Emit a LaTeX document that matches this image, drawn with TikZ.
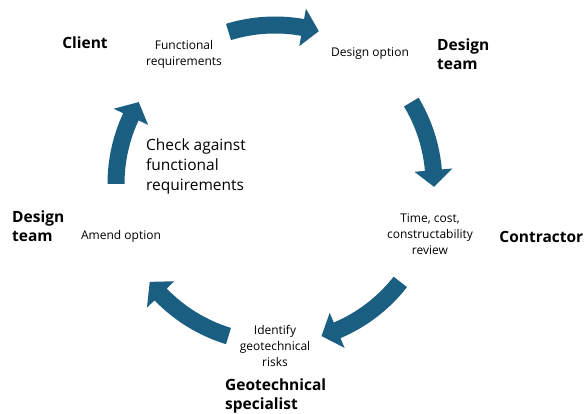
\documentclass[tikz,border=0pt]{standalone}
\usepackage{fontspec}
\setmainfont{Open Sans}
\begin{document}
\begin{tikzpicture}[x=1pt,y=1pt,
  role/.style={font=\fontsize{15.5}{19.5}\selectfont\bfseries, align=left, inner sep=0pt},
  task/.style={font=\fontsize{12}{16}\selectfont, align=center, inner sep=0pt},
  note/.style={font=\fontsize{15.5}{20}\selectfont, align=left, inner sep=0pt}]
\definecolor{arrowblue}{HTML}{1A5F82}
\useasboundingbox (0,0) rectangle (584,-414);
\fill[white] (0,0) rectangle (584,-414);

% curved block arrows around the cycle centre
\def\Rc{159}  % centre-line radius
\def\Wh{8.5}  % half body width
\def\Hh{19}   % half head width
\def\Ha{6}    % head length, degrees
% #1 tail angle, #2 tip angle (clockwise, #2 < #1)
\newcommand\cyclearrow[2]{%
  \pgfmathsetmacro\hb{#2+\Ha}%
  \fill[arrowblue]
    (#1:\Rc pt+\Wh pt) arc[start angle=#1, end angle=\hb, radius=\Rc pt+\Wh pt]
    -- (\hb:\Rc pt+\Hh pt) -- (#2:\Rc pt) -- (\hb:\Rc pt-\Hh pt)
    -- (\hb:\Rc pt-\Wh pt) arc[start angle=\hb, end angle=#1, radius=\Rc pt-\Wh pt]
    -- cycle;}
\begin{scope}[shift={(275,-184)}]
  \cyclearrow{107}{74}
  \cyclearrow{31}{-1}
  \cyclearrow{-38}{-73}
  \cyclearrow{-107}{-142}
  \cyclearrow{180}{149}
\end{scope}

% roles
\node[role] (client) at (85,-43) {Client};
\node[role, anchor=west] (design1) at (437,-54) {Design\\team};
\node[role, anchor=east] (contractor) at (583.5,-237) {Contractor};
\node[role, anchor=west] (geotech) at (225,-396) {Geotechnical\\specialist};
\node[role, anchor=west] (design2) at (12,-226) {Design\\team};

% activities
\node[task] (funreq) at (184,-54) {Functional\\requirements};
\node[task] (option) at (370,-54) {Design option};
\node[task] (review) at (430,-234) {Time, cost,\\constructability\\review};
\node[task] (risks) at (275,-346) {Identify\\geotechnical\\risks};
\node[task] (amend) at (121,-236) {Amend option};
\node[note, anchor=west] (check) at (146,-166) {Check against\\functional\\requirements};
\end{tikzpicture}
\end{document}
